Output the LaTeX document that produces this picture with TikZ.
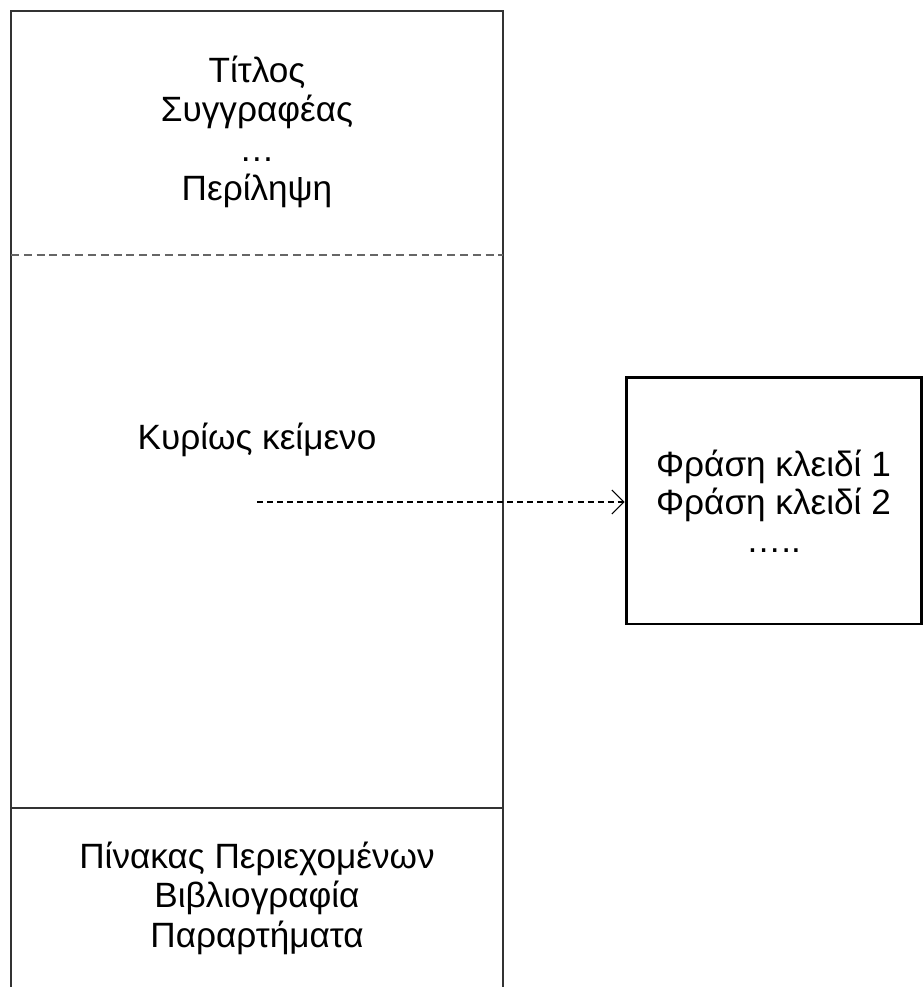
\documentclass[tikz,border=0pt]{standalone}
\usepackage{fontspec}
\setmainfont{Liberation Sans}
\usetikzlibrary{arrows.meta}

\tikzset{
    frame/.style={draw=black!80,line width=1.1pt},
    sectext/.style={align=center,font=\fontsize{20}{22.5}\selectfont},
    keybox/.style={draw,line width=1.7pt,minimum width=5.9cm,minimum height=4.92cm,align=center,font=\fontsize{20}{21.5}\selectfont},
    link/.style={dash pattern=on 3.4pt off 2.3pt,line width=0.6pt,-{Straight Barb[length=6.8pt,width=13.6pt]}}
}

\begin{document}
\begin{tikzpicture}

    \useasboundingbox (0,0) rectangle (18.46,19.74);

    %%%%%%%%%%%%%%%%%%%%%%%%%%%%%%%%%%%%%%%%%%%%%%%%%%%%%%

    % document frame (open at the bottom)
    \draw[frame] (0.22,0) -- (0.22,19.52) -- (10.06,19.52) -- (10.06,0);

    % front matter / main text border
    \draw[frame,draw=black!60,line width=0.8pt,dash pattern=on 4.5pt off 2.8pt] (0.22,14.64) -- (10.06,14.64);

    % main text / back matter border
    \draw[frame] (0.22,3.58) -- (10.06,3.58);

    %%%%%%%%%%%%%%%%%%%%%%%%%%%%%%%%%%%%%%%%%%%%%%%%%%%%%%

    % front matter
    \node[sectext] (front) at (5.14,17.10) {Τίτλος\\Συγγραφέας\\…\\Περίληψη};

    % main text
    \node[sectext] (body) at (5.14,10.94) {Κυρίως κείμενο};
    \coordinate (bodyout) at (5.14,9.70);

    % back matter
    \node[sectext] (back) at (5.14,1.78) {Πίνακας Περιεχομένων\\Βιβλιογραφία\\Παραρτήματα};

    %%%%%%%%%%%%%%%%%%%%%%%%%%%%%%%%%%%%%%%%%%%%%%%%%%%%%%

    % key phrases
    \node[keybox] (keys) at (15.47,9.72) {Φράση κλειδί 1\\Φράση κλειδί 2\\…..};
    \draw[link] (bodyout) -- (bodyout -| keys.west);

\end{tikzpicture}
\end{document}
